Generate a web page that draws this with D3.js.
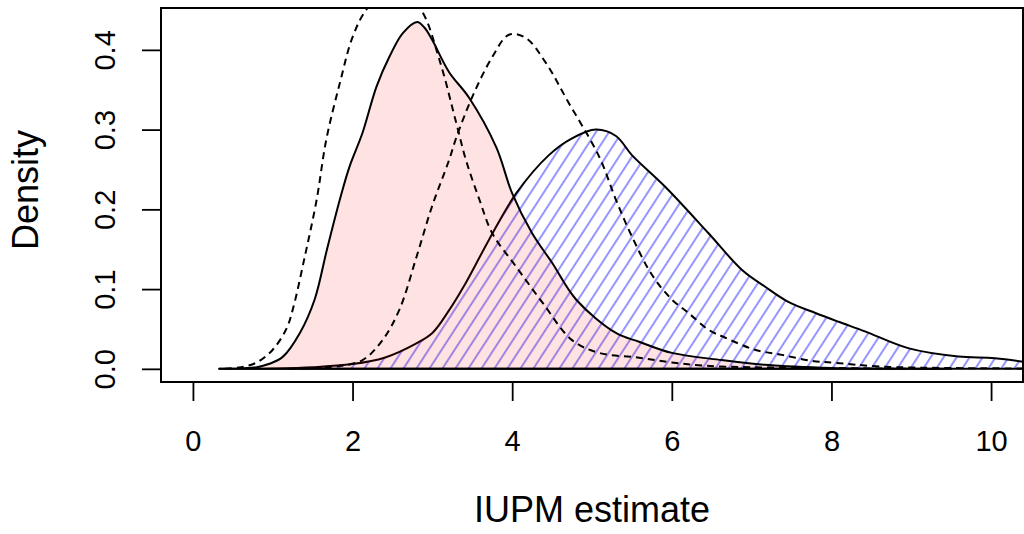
<!DOCTYPE html>
<html>
<head>
<meta charset="utf-8">
<script src="https://cdn.jsdelivr.net/npm/d3@7"></script>
<style>
  body { margin: 0; background: #fff; }
  text { font-family: "Liberation Sans", Arial, sans-serif; fill: #000; }
</style>
</head>
<body>
<div id="chart"></div>
<script>
// density curves (x = IUPM, y = density)
var redX  = [0.33, 0.6, 0.8, 0.95, 1.125, 1.34, 1.525, 1.68, 1.84, 1.96, 2.125, 2.3, 2.46, 2.63, 2.81, 2.9, 3.0, 3.21, 3.46, 3.8, 4.0, 4.25, 4.5, 4.8, 5.3, 5.59, 6.0, 6.625, 7.17, 8.0, 9.0, 9.5];
var redY  = [0, 0.0005, 0.002, 0.006, 0.015, 0.045, 0.087, 0.15, 0.212, 0.253, 0.296, 0.354, 0.391, 0.421, 0.435, 0.428, 0.412, 0.372, 0.34, 0.278, 0.22, 0.17, 0.133, 0.087, 0.045, 0.034, 0.02, 0.011, 0.005, 0.001, 0, 0];

var blueX = [0.33, 1.0, 1.5, 2.0, 2.4, 2.8, 3.0, 3.2, 3.42, 3.71, 4.05, 4.46, 4.75, 5.05, 5.3, 5.5, 5.92, 6.46, 6.88, 7.17, 7.46, 7.8, 8.09, 8.42, 8.96, 9.59, 10.05, 10.6];
var blueY = [0, 0.0005, 0.002, 0.006, 0.014, 0.032, 0.045, 0.072, 0.108, 0.162, 0.22, 0.268, 0.289, 0.30, 0.292, 0.268, 0.228, 0.17, 0.124, 0.103, 0.084, 0.07, 0.059, 0.047, 0.026, 0.0155, 0.0134, 0.006];

var dash1X = [0.4, 0.6, 0.8, 1.0, 1.17, 1.25, 1.4, 1.55, 1.67, 1.84, 2.0, 2.17, 2.52, 2.86, 3.09, 3.3, 3.42, 3.59, 3.75, 4.05, 4.38, 4.75, 5.09, 5.59, 6.0, 6.4, 7.0, 8.0, 9.0];
var dash1Y = [0, 0.002, 0.008, 0.024, 0.05, 0.074, 0.14, 0.212, 0.287, 0.358, 0.416, 0.45, 0.485, 0.45, 0.387, 0.308, 0.262, 0.212, 0.17, 0.128, 0.083, 0.036, 0.02, 0.014, 0.008, 0.004, 0.002, 0.001, 0];

var dash2X = [1.2, 1.5, 1.8, 2.125, 2.375, 2.59, 2.8, 3.0, 3.21, 3.3, 3.5, 3.75, 3.96, 4.17, 4.42, 4.7, 5.09, 5.3, 5.5, 5.75, 6.0, 6.21, 6.46, 6.67, 7.04, 7.38, 7.75, 8.05, 8.6, 9.5, 10.6];
var dash2Y = [0, 0.001, 0.003, 0.011, 0.036, 0.075, 0.14, 0.205, 0.262, 0.29, 0.341, 0.391, 0.419, 0.415, 0.384, 0.335, 0.266, 0.212, 0.166, 0.118, 0.087, 0.07, 0.049, 0.039, 0.024, 0.0175, 0.01, 0.0075, 0.003, 0.001, 0.0005];

var xTicks = [0, 2, 4, 6, 8, 10];
var yTicks = [0, 0.1, 0.2, 0.3, 0.4];

var W = 1024, H = 534;
var plot = { left: 161, right: 1023, top: 8, bottom: 382 };

var svg = d3.select("#chart").append("svg")
    .attr("width", W)
    .attr("height", H);

svg.append("rect").attr("width", W).attr("height", H).attr("fill", "#fff");

var x = d3.scaleLinear().domain([-0.4, 10.4]).range([plot.left, plot.right]);
var y = d3.scaleLinear().domain([-0.0165, 0.4525]).range([plot.bottom, plot.top]);

function pts(xs, ys) {
    return xs.map(function (d, i) { return [d, ys[i]]; });
}

var defs = svg.append("defs");
defs.append("clipPath").attr("id", "clip")
    .append("rect")
    .attr("x", plot.left).attr("y", plot.top)
    .attr("width", plot.right - plot.left).attr("height", plot.bottom - plot.top);

// diagonal hatch for the blue density
var hatch = defs.append("pattern")
    .attr("id", "hatch")
    .attr("patternUnits", "userSpaceOnUse")
    .attr("width", 10.9).attr("height", 10.9)
    .attr("patternTransform", "rotate(33)");
hatch.append("line")
    .attr("x1", 5).attr("y1", -1).attr("x2", 5).attr("y2", 12)
    .attr("stroke", "rgba(0,0,255,0.42)")
    .attr("stroke-width", 2);

var curve = d3.curveCatmullRom.alpha(0.5);

var area = d3.area()
    .x(function (d) { return x(d[0]); })
    .y0(y(0))
    .y1(function (d) { return y(Math.max(0, d[1])); })
    .curve(curve);

var line = d3.line()
    .x(function (d) { return x(d[0]); })
    .y(function (d) { return y(d[1]); })
    .curve(curve);

var g = svg.append("g").attr("clip-path", "url(#clip)");

g.append("path")
    .attr("d", area(pts(blueX, blueY)))
    .attr("fill", "url(#hatch)")
    .attr("stroke", "#000")
    .attr("stroke-width", 2)
    .attr("stroke-linejoin", "round");

g.append("path")
    .attr("d", area(pts(redX, redY)))
    .attr("fill", "rgba(255,0,0,0.11)")
    .attr("stroke", "#000")
    .attr("stroke-width", 2)
    .attr("stroke-linejoin", "round");

[pts(dash1X, dash1Y), pts(dash2X, dash2Y)].forEach(function (p) {
    g.append("path")
        .attr("d", line(p))
        .attr("fill", "none")
        .attr("stroke", "#000")
        .attr("stroke-width", 2)
        .attr("stroke-dasharray", "7,5");
});

// box
svg.append("rect")
    .attr("x", plot.left).attr("y", plot.top)
    .attr("width", plot.right - plot.left).attr("height", plot.bottom - plot.top)
    .attr("fill", "none")
    .attr("stroke", "#000")
    .attr("stroke-width", 2);

// x axis
var xAxis = svg.append("g")
    .attr("transform", "translate(0," + plot.bottom + ")")
    .call(d3.axisBottom(x).tickValues(xTicks).tickSizeOuter(0).tickSize(19).tickPadding(29));
xAxis.select(".domain").remove();
xAxis.selectAll("line").attr("stroke", "#000").attr("stroke-width", 1.8);
xAxis.selectAll("text")
    .attr("font-size", 29)
    .attr("font-family", "Liberation Sans, Arial, sans-serif");

// y axis, labels turned like R
var yAxis = svg.append("g")
    .attr("transform", "translate(" + plot.left + ",0)")
    .call(d3.axisLeft(y).tickValues(yTicks).tickFormat(d3.format(".1f")).tickSizeOuter(0).tickSize(19));
yAxis.select(".domain").remove();
yAxis.selectAll("line").attr("stroke", "#000").attr("stroke-width", 1.8);
yAxis.selectAll("text")
    .attr("x", null).attr("dy", null)
    .attr("text-anchor", "middle")
    .attr("transform", "translate(-46,0) rotate(-90)")
    .attr("font-size", 29)
    .attr("font-family", "Liberation Sans, Arial, sans-serif");

// axis titles
svg.append("text")
    .attr("x", (plot.left + plot.right) / 2)
    .attr("y", 522)
    .attr("text-anchor", "middle")
    .attr("font-size", 36)
    .text("IUPM estimate");

svg.append("text")
    .attr("transform", "translate(38,190) rotate(-90)")
    .attr("text-anchor", "middle")
    .attr("font-size", 36)
    .text("Density");
</script>
</body>
</html>
